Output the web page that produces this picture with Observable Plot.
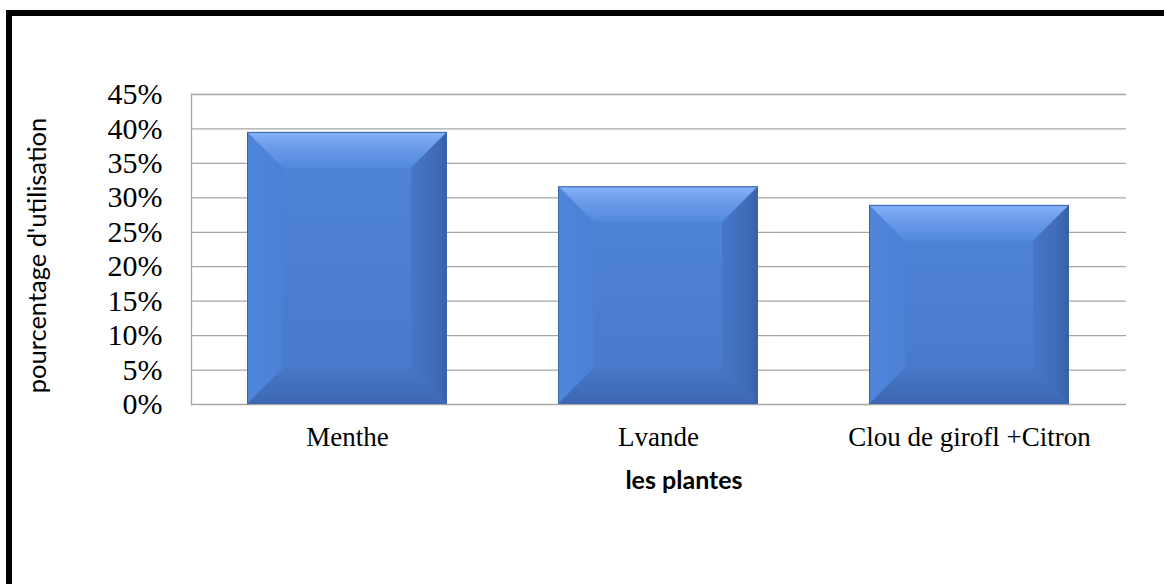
<!DOCTYPE html>
<html>
<head>
<meta charset="utf-8">
<script src="https://cdn.jsdelivr.net/npm/d3@7"></script>
<script src="https://cdn.jsdelivr.net/npm/@observablehq/plot@0.6"></script>
<style>
  html, body { margin: 0; padding: 0; background: white; }
  #wrap { position: relative; width: 1164px; height: 584px; overflow: hidden; background: white; }
  #border { position: absolute; left: 6px; top: 10px; width: 1200px; height: 700px; border: 6px solid black; box-sizing: border-box; pointer-events: none; }
</style>
</head>
<body>
<div id="wrap"><div id="border"></div></div>
<script>
const categories = ["Menthe", "Lvande", "Clou de girofl +Citron"];
const values = [0.395, 0.316, 0.289];
const yTicks = [0, 0.05, 0.10, 0.15, 0.20, 0.25, 0.30, 0.35, 0.40, 0.45];
const yTitle = "pourcentage d'utilisation";
const xTitle = "les plantes";

const data = categories.map((c, i) => ({plante: c, pct: values[i]}));

const chart = Plot.plot({
  width: 1164,
  height: 584,
  marginLeft: 191,
  marginRight: 38,
  marginTop: 94,
  marginBottom: 180,
  style: {background: "transparent", fontFamily: "'Liberation Serif', 'Times New Roman', serif", color: "black"},
  x: {domain: categories, paddingInner: 0.356, paddingOuter: 0.178},
  y: {domain: [0, 0.45]},
  marks: [
    Plot.gridY(yTicks, {stroke: "#a6a6a6", strokeOpacity: 1, strokeWidth: 1.3}),
    Plot.frame({anchor: "left", stroke: "#a6a6a6", strokeWidth: 1.3}),
    Plot.barY(data, {x: "plante", y: "pct", fill: "#4a7dcf", className: "bevelbar"}),
    Plot.axisX({tickSize: 0, tickPadding: 22, fontSize: 27, label: null, fill: "black"}),
    Plot.axisY({ticks: yTicks, tickFormat: d3.format(".0%"), tickSize: 0, tickPadding: 29, fontSize: 30, label: null, fill: "black"}),
    Plot.text([yTitle], {text: d => d, frameAnchor: "left", textAnchor: "middle", rotate: -90, dx: -154, dy: 6, fontSize: 25.5, fontFamily: "Lato, 'Open Sans', sans-serif", fill: "black"}),
    Plot.text([xTitle], {text: d => d, frameAnchor: "bottom", textAnchor: "middle", dx: 25, dy: 84, fontSize: 25, fontWeight: "bold", fontFamily: "Lato, 'Open Sans', sans-serif", fill: "black"})
  ]
});

document.getElementById("wrap").insertBefore(chart, document.getElementById("border"));

// bevel decoration derived from the bars drawn by Plot
const svg = d3.select(chart);
const defs = svg.insert("defs", ":first-child");
function grad(id, x2, y2, stops) {
  const g = defs.append("linearGradient").attr("id", id).attr("x1", 0).attr("y1", 0).attr("x2", x2).attr("y2", y2);
  stops.forEach(([o, c]) => g.append("stop").attr("offset", o).attr("stop-color", c));
}
grad("gTop", 0, 1, [[0, "#86b3fa"], [0.35, "#6f9eec"], [1, "#5288dc"]]);
grad("gLeft", 1, 0, [[0, "#4f86dc"], [1, "#4c80d4"]]);
grad("gRight", 1, 0, [[0, "#4676c8"], [0.8, "#3e69b4"], [1, "#355ea4"]]);
grad("gBottom", 0, 1, [[0, "#4777c7"], [1, "#3d67b2"]]);
grad("gFace", 0, 1, [[0, "#4f84d7"], [1, "#4879ca"]]);

svg.selectAll(".bevelbar rect").each(function() {
  const r = d3.select(this);
  const x = +r.attr("x"), y = +r.attr("y"), w = +r.attr("width"), h = +r.attr("height");
  const b = Math.min(36, w / 2, h / 2);
  r.attr("fill", "url(#gFace)");
  const g = d3.select(this.parentNode);
  const poly = (pts, fill) => g.append("polygon").attr("points", pts.map(p => p.join(",")).join(" ")).attr("fill", fill);
  poly([[x, y], [x + w, y], [x + w - b, y + b], [x + b, y + b]], "url(#gTop)");
  poly([[x, y], [x + b, y + b], [x + b, y + h - b], [x, y + h]], "url(#gLeft)");
  poly([[x + w, y], [x + w, y + h], [x + w - b, y + h - b], [x + w - b, y + b]], "url(#gRight)");
  poly([[x, y + h], [x + b, y + h - b], [x + w - b, y + h - b], [x + w, y + h]], "url(#gBottom)");
  g.append("rect").attr("x", x + 0.5).attr("y", y + 0.5).attr("width", w - 1).attr("height", h - 1)
    .attr("fill", "none").attr("stroke", "#3b65ad").attr("stroke-width", 1);
});
</script>
</body>
</html>
